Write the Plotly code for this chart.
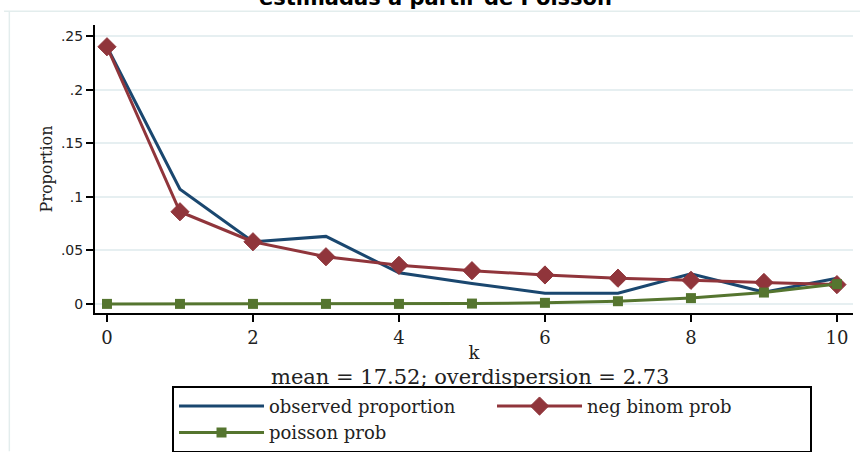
import plotly.graph_objects as go

k = [0, 1, 2, 3, 4, 5, 6, 7, 8, 9, 10]
observed = [0.240, 0.107, 0.058, 0.063, 0.029, 0.019, 0.010, 0.010, 0.028, 0.011, 0.024]
negbin = [0.240, 0.086, 0.058, 0.044, 0.036, 0.031, 0.027, 0.024, 0.022, 0.020, 0.018]
poisson = [0.0, 0.0, 0.0, 0.0, 0.0, 0.0003, 0.001, 0.0025, 0.0054, 0.0106, 0.0185]

ytick_vals = [0, 0.05, 0.1, 0.15, 0.2, 0.25]
ytick_text = ["0", ".05", ".1", ".15", ".2", ".25"]
xtick_vals = [0, 2, 4, 6, 8, 10]

title_text = "estimadas a partir de Poisson"
note_text = "mean = 17.52; overdispersion = 2.73"

BLUE = "#1a476f"
RED = "#90353b"
GREEN = "#55752f"
SERIF = "DejaVu Serif"

fig = go.Figure()
fig.add_trace(go.Scatter(x=k, y=observed, mode="lines", name="observed proportion",
                         line=dict(color=BLUE, width=3)))
fig.add_trace(go.Scatter(x=k, y=negbin, mode="lines+markers", name="neg binom prob",
                         line=dict(color=RED, width=3),
                         marker=dict(symbol="diamond", size=14, color=RED,
                                     line=dict(color=RED, width=1))))
fig.add_trace(go.Scatter(x=k, y=poisson, mode="lines+markers", name="poisson prob",
                         line=dict(color=GREEN, width=3),
                         marker=dict(symbol="square", size=10, color=GREEN)))

fig.update_layout(
    width=860, height=452,
    margin=dict(l=95, r=7, t=25, b=139, autoexpand=False),
    paper_bgcolor="white", plot_bgcolor="white",
    showlegend=True,
    legend=dict(orientation="h", x=0.1016, xanchor="left", y=-0.253, yanchor="top",
                bordercolor="black", borderwidth=2, bgcolor="white",
                font=dict(family=SERIF, size=18, color="#222"),
                entrywidth=218, itemwidth=85, tracegroupgap=0),
    xaxis=dict(range=[-0.164, 10.22], tickvals=xtick_vals, ticks="outside", ticklen=7,
               tickwidth=2, tickcolor="black", showline=True, linecolor="black", linewidth=2,
               showgrid=False, zeroline=False, automargin=False,
               tickfont=dict(family=SERIF, size=18, color="#222"),
               title=dict(text="k", font=dict(family=SERIF, size=18, color="#222"), standoff=0)),
    yaxis=dict(range=[-0.0085, 0.2603], tickvals=ytick_vals, ticktext=ytick_text,
               ticks="outside", ticklen=7, tickwidth=2, tickcolor="black",
               showline=True, linecolor="black", linewidth=2, automargin=False,
               showgrid=True, gridcolor="#e6eff1", gridwidth=2, zeroline=False,
               tickfont=dict(family="DejaVu Sans", size=14, color="#222"),
               title=dict(text="Proportion", font=dict(family=SERIF, size=16, color="#222"),
                          standoff=4)),
    annotations=[
        dict(text=note_text, xref="paper", yref="paper", x=0.495, y=-0.172,
             xanchor="center", yanchor="top", showarrow=False,
             font=dict(family=SERIF, size=21, color="#222")),
        dict(text="<b>" + title_text + "</b>", xref="paper", yref="paper", x=0.449, y=1.045,
             xanchor="center", yanchor="bottom", showarrow=False,
             font=dict(family="DejaVu Sans", size=21, color="black")),
    ],
    shapes=[
        dict(type="line", xref="paper", yref="paper", x0=-0.12, x1=1.01, y0=1.048, y1=1.048,
             line=dict(color="#e3eded", width=1.5), layer="below"),
        dict(type="line", xref="paper", yref="paper", x0=-0.113, x1=-0.113, y0=1.048, y1=-0.48,
             line=dict(color="#e3eded", width=1.5), layer="below"),
    ],
)

fig.write_html("out.html", config={"displayModeBar": False},
               post_script="document.body.style.margin='0px';")
